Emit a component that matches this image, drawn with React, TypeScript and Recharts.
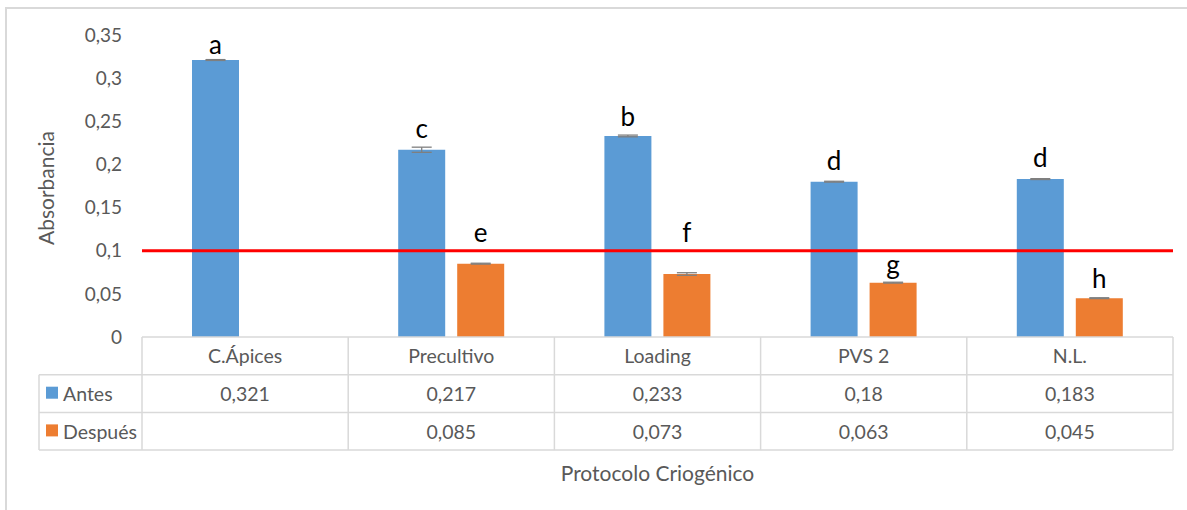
import React from 'react';
import { BarChart, Bar, XAxis, YAxis, ErrorBar, LabelList, ReferenceLine } from 'recharts';

const categories = ['C.Ápices', 'Precultivo', 'Loading', 'PVS 2', 'N.L.'];
const antes = [0.321, 0.217, 0.233, 0.18, 0.183];
const despues: (number | null)[] = [null, 0.085, 0.073, 0.063, 0.045];
const antesErr = [0.0005, 0.003, 0.001, 0.0005, 0.0005];
const despuesErr: (number | null)[] = [null, 0.0005, 0.0015, 0.0005, 0.0005];
const antesLetters = ['a', 'c', 'b', 'd', 'd'];
const despuesLetters = ['', 'e', 'f', 'g', 'h'];
// level (in absorbance units) of each letter's baseline
const antesLetterAt = [0.3284, 0.2311, 0.245, 0.194, 0.1971];
const despuesLetterAt: (number | null)[] = [null, 0.1103, 0.1103, 0.0729, 0.0564];
const yTicks = [0, 0.05, 0.1, 0.15, 0.2, 0.25, 0.3, 0.35];
const threshold = 0.1;
const seriesNames = ['Antes', 'Después'];

const data = categories.map((cat, i) => ({
  cat,
  idx: i,
  antes: antes[i],
  despues: despues[i],
  antesErr: antesErr[i],
  despuesErr: despuesErr[i],
}));

const W = 1187;
const H = 510;
const PLOT_LEFT = 142;
const PLOT_RIGHT = 1173;
const BAND = (PLOT_RIGHT - PLOT_LEFT) / categories.length;
const ROW_H = 37.7;
const LEGEND_LEFT = 39;
const GRID = '#d9d9d9';
const TXT = '#595959';
const FONT = 'Lato, "Noto Sans", sans-serif';
const BLUE = '#5B9BD5';
const ORANGE = '#ED7D31';

const fmt = (v: number | null) => (v === null || v === undefined ? '' : String(v).replace('.', ','));

const makeLetter = (letters: string[], levels: (number | null)[], values: (number | null)[]) => (props: any) => {
  const { x, y, width, height, value } = props;
  const i = Number(value);
  if (!Number.isFinite(i)) return null;
  const letter = letters[i];
  const lvl = levels[i];
  const v = values[i];
  if (!letter || lvl === null || v === null || !v) return null;
  const bottom = Number(y) + Number(height);
  const perUnit = Number(height) / v;
  const baseline = bottom - lvl * perUnit;
  return (
    <text x={Number(x) + Number(width) / 2} y={baseline} textAnchor="middle" fontSize={26} fill="#000" fontFamily={FONT}>
      {letter}
    </text>
  );
};

const TableTick = (props: any) => {
  const { x, y, payload } = props;
  const i = payload.index;
  const top = Number(y);
  const r1 = top + ROW_H;
  const r2 = top + 2 * ROW_H;
  const r3 = top + 3 * ROW_H;
  const half = BAND / 2;
  return (
    <g fontFamily={FONT}>
      {i === 0 && (
        <g>
          <line x1={LEGEND_LEFT} x2={PLOT_RIGHT} y1={r1} y2={r1} stroke={GRID} strokeWidth={1.5} />
          <line x1={LEGEND_LEFT} x2={PLOT_RIGHT} y1={r2} y2={r2} stroke={GRID} strokeWidth={1.5} />
          <line x1={LEGEND_LEFT} x2={PLOT_RIGHT} y1={r3} y2={r3} stroke={GRID} strokeWidth={1.5} />
          <line x1={LEGEND_LEFT} x2={LEGEND_LEFT} y1={r1} y2={r3} stroke={GRID} strokeWidth={1.5} />
          <line x1={x - half} x2={x - half} y1={top} y2={r3} stroke={GRID} strokeWidth={1.5} />
          <rect x={46} y={r1 + 12} width={12} height={12} fill={BLUE} />
          <text x={63} y={r1 + ROW_H / 2} dominantBaseline="central" fontSize={19.5} fill={TXT}>{seriesNames[0]}</text>
          <rect x={46} y={r2 + 12} width={12} height={12} fill={ORANGE} />
          <text x={63} y={r2 + ROW_H / 2} dominantBaseline="central" fontSize={19.5} fill={TXT}>{seriesNames[1]}</text>
        </g>
      )}
      <line x1={x + half} x2={x + half} y1={top} y2={r3} stroke={GRID} strokeWidth={1.5} />
      <text x={x} y={top + ROW_H / 2} textAnchor="middle" dominantBaseline="central" fontSize={19.5} fill={TXT}>
        {payload.value}
      </text>
      <text x={x} y={r1 + ROW_H / 2} textAnchor="middle" dominantBaseline="central" fontSize={19.5} fill={TXT}>
        {fmt(antes[i])}
      </text>
      <text x={x} y={r2 + ROW_H / 2} textAnchor="middle" dominantBaseline="central" fontSize={19.5} fill={TXT}>
        {fmt(despues[i])}
      </text>
    </g>
  );
};

export default function App() {
  return (
    <div style={{ position: 'absolute', left: 0, top: 0, width: W, height: H, background: '#fff', overflow: 'hidden' }}>
      <div
        style={{
          position: 'absolute',
          left: 5,
          top: 7,
          width: W,
          height: H,
          borderTop: `2px solid ${GRID}`,
          borderLeft: `2px solid ${GRID}`,
        }}
      />
      <div style={{ position: 'absolute', left: 0, top: 0 }}>
        <BarChart
          width={W}
          height={H}
          data={data}
          margin={{ top: 35, right: W - PLOT_RIGHT, bottom: 0, left: 0 }}
          barGap={12}
          barCategoryGap={50}
        >
          <XAxis
            dataKey="cat"
            height={173}
            tickLine={false}
            tickSize={0}
            tickMargin={0}
            axisLine={{ stroke: GRID, strokeWidth: 1.5 }}
            interval={0}
            tick={<TableTick />}
            label={{
              content: (p: any) => {
                const vb = p.viewBox || {};
                return (
                  <text x={vb.x + vb.width / 2} y={472} textAnchor="middle" dominantBaseline="central" fontSize={21} fill={TXT} fontFamily={FONT}>
                    Protocolo Criogénico
                  </text>
                );
              },
            }}
          />
          <YAxis
            width={PLOT_LEFT}
            domain={[0, 0.35]}
            ticks={yTicks}
            tickFormatter={(v: number) => fmt(v)}
            axisLine={false}
            tickLine={false}
            tickSize={0}
            tickMargin={20}
            tick={{ fontSize: 19, fill: TXT, fontFamily: FONT }}
            label={{
              content: (p: any) => {
                const vb = p.viewBox || {};
                const cy = vb.y + vb.height / 2 + 2;
                return (
                  <text x={45} y={cy} transform={`rotate(-90 45 ${cy})`} textAnchor="middle" dominantBaseline="central" fontSize={21} fill={TXT} fontFamily={FONT}>
                    Absorbancia
                  </text>
                );
              },
            }}
          />
          <Bar dataKey="antes" fill={BLUE} barSize={47} isAnimationActive={false}>
            <ErrorBar dataKey="antesErr" width={10} stroke="#7f7f7f" strokeWidth={1.3} direction="y" isAnimationActive={false} />
            <LabelList dataKey="idx" content={makeLetter(antesLetters, antesLetterAt, antes)} />
          </Bar>
          <Bar dataKey="despues" fill={ORANGE} barSize={47} isAnimationActive={false}>
            <ErrorBar dataKey="despuesErr" width={10} stroke="#7f7f7f" strokeWidth={1.3} direction="y" isAnimationActive={false} />
            <LabelList dataKey="idx" content={makeLetter(despuesLetters, despuesLetterAt, despues)} />
          </Bar>
          <ReferenceLine y={threshold} stroke="#FF0000" strokeWidth={3} ifOverflow="extendDomain" />
        </BarChart>
      </div>
    </div>
  );
}
